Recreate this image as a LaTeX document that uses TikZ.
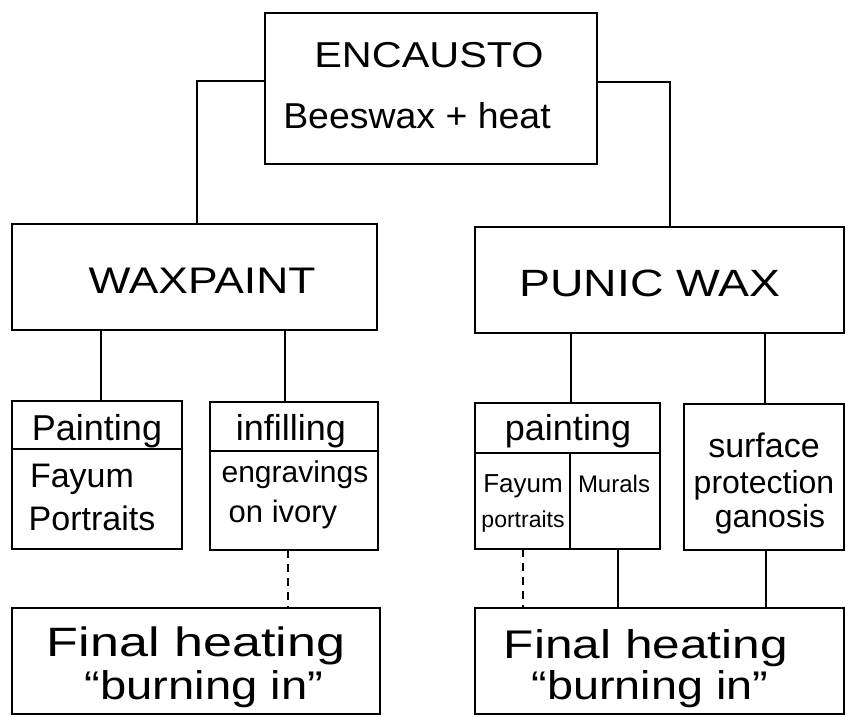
\documentclass[tikz,border=0pt]{standalone}
\usepackage{graphicx}
\usepackage{fontspec}
\setmainfont{Liberation Sans}
\begin{document}
\begin{tikzpicture}[x=1pt,y=-1pt]
\tikzset{
  box/.style={draw, line width=2.2pt, inner sep=0pt, outer sep=0pt},
  lbl/.style={anchor=base, inner sep=0pt},
  link/.style={line width=2pt},
  dlink/.style={line width=2pt, dash pattern=on 8pt off 6pt},
}
\newcommand\mkbox[5]{\node[box, minimum width={(#4-#2)*1pt}, minimum height={(#5-#3)*1pt}] (#1) at ({(#2+#4)/2},{(#3+#5)/2}) {};}
\newcommand\wide[2]{\scalebox{#1}[1]{#2}}
\useasboundingbox (0,0) rectangle (846,716);
% boxes
\mkbox{enc}{265}{13}{597}{164}
\mkbox{wax}{12}{224}{377}{330}
\mkbox{pun}{475}{227}{844}{333}
\mkbox{lp}{12}{401}{182}{549}
\mkbox{inf}{210}{402}{378}{550}
\mkbox{rp}{475}{403}{660}{549}
\mkbox{surf}{684}{404}{844}{550}
\mkbox{fhl}{12}{608}{380}{714}
\mkbox{fhr}{475}{608}{844}{714}
% dividers inside boxes
\draw[link] (lp.west |- 0,449) -- (lp.east |- 0,449);
\draw[link] (inf.west |- 0,451) -- (inf.east |- 0,451);
\draw[link] (rp.west |- 0,453) -- (rp.east |- 0,453);
\draw[link] ([xshift=2.5pt]rp.south) -- ([xshift=2.5pt]rp.south |- 0,453);
% connectors
\draw[link] ([yshift=7.5pt]enc.west) -| ([xshift=2.5pt]wax.north);
\draw[link] ([yshift=6.5pt]enc.east) -| ([xshift=10pt]pun.north);
\draw[link] ([xshift=4pt]lp.north) -- ([xshift=4pt]lp.north |- wax.south);
\draw[link] ([xshift=-9pt]inf.north) -- ([xshift=-9pt]inf.north |- wax.south);
\draw[link] ([xshift=3.5pt]rp.north) -- ([xshift=3.5pt]rp.north |- pun.south);
\draw[link] ([xshift=0.5pt]surf.north) -- ([xshift=0.5pt]surf.north |- pun.south);
\draw[dlink] ([xshift=-6pt]inf.south) -- ([xshift=-6pt]inf.south |- fhl.north);
\draw[dlink] ([xshift=-44.5pt]rp.south) -- ([xshift=-44.5pt]rp.south |- fhr.north);
\draw[link] ([xshift=50.5pt]rp.south) -- ([xshift=50.5pt]rp.south |- fhr.north);
\draw[link] ([xshift=1.5pt]surf.south) -- ([xshift=1.5pt]surf.south |- fhr.north);
% labels
\node[lbl, font=\fontsize{36}{36}\selectfont] (t1) at (429,67) {\wide{1.15}{ENCAUSTO}};
\node[lbl, font=\fontsize{36}{36}\selectfont] (t2) at (417,128) {\wide{1.04}{Beeswax + heat}};
\node[lbl, font=\fontsize{37}{37}\selectfont] (t3) at (202,293) {\wide{1.2}{WAXPAINT}};
\node[lbl, font=\fontsize{38}{38}\selectfont] (t4) at (650,296) {\wide{1.22}{PUNIC WAX}};
\node[lbl, font=\fontsize{36}{36}\selectfont] (t5) at (97,440) {Painting};
\node[lbl, font=\fontsize{34}{34}\selectfont] (t6) at (82,487) {Fayum};
\node[lbl, font=\fontsize{34}{34}\selectfont] (t7) at (92,530) {Portraits};
\node[lbl, font=\fontsize{36}{36}\selectfont] (t8) at (291,440) {infilling};
\node[lbl, font=\fontsize{30}{30}\selectfont] (t9) at (295,482) {engravings};
\node[lbl, font=\fontsize{31}{31}\selectfont] (t10) at (283,522) {on ivory};
\node[lbl, font=\fontsize{36}{36}\selectfont] (t11) at (568,440) {painting};
\node[lbl, font=\fontsize{26}{26}\selectfont] (t12) at (523,492) {Fayum};
\node[lbl, font=\fontsize{23}{23}\selectfont] (t13) at (523,527) {portraits};
\node[lbl, font=\fontsize{24}{24}\selectfont] (t14) at (614,492) {Murals};
\node[lbl, font=\fontsize{34}{34}\selectfont] (t15) at (764,457) {surface};
\node[lbl, font=\fontsize{32}{32}\selectfont] (t16) at (764,493) {protection};
\node[lbl, font=\fontsize{32}{32}\selectfont] (t17) at (770,527) {ganosis};
\node[lbl, font=\fontsize{41}{41}\selectfont] (t18) at (196,656) {\wide{1.27}{Final heating}};
\node[lbl, font=\fontsize{40}{40}\selectfont] (t19) at (204,699) {\wide{1.18}{“burning in”}};
\node[lbl, font=\fontsize{40}{40}\selectfont] (t20) at (646,658) {\wide{1.24}{Final heating}};
\node[lbl, font=\fontsize{40}{40}\selectfont] (t21) at (650,699) {\wide{1.17}{“burning in”}};
\end{tikzpicture}
\end{document}
